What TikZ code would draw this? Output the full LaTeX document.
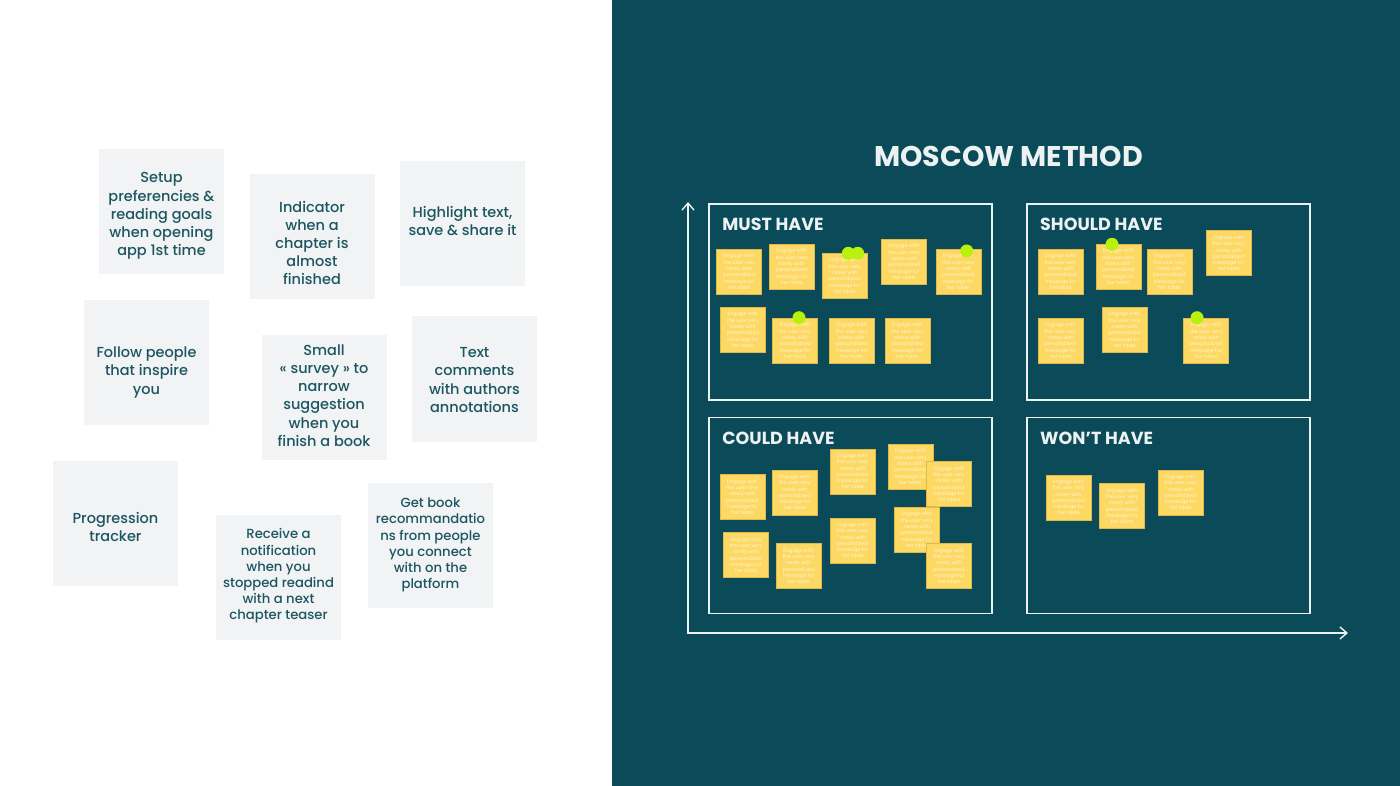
\documentclass[tikz,border=0pt]{standalone}
\usepackage{fontspec}
\setmainfont{Poppins}
\newfontfamily\cardfont{Poppins}[UprightFont=* Medium]
\usetikzlibrary{arrows.meta}

\definecolor{panel}{RGB}{11,74,88}
\definecolor{cardgrey}{RGB}{241,243,244}
\definecolor{cardtext}{RGB}{28,86,97}
\definecolor{stickyyellow}{RGB}{253,216,98}
\definecolor{stickyedge}{RGB}{222,186,78}
\definecolor{stickytext}{RGB}{255,246,214}
\definecolor{pinlime}{RGB}{184,242,12}
\definecolor{chalk}{RGB}{236,241,242}

\newcommand{\engage}{Engage with\\the user very\\rarely with\\personalized\\message for\\her taste}

\tikzset{
  card/.style={fill=cardgrey, minimum width=125, minimum height=125, inner sep=0},
  cardlabel/.style={text=cardtext, inner sep=0, align=center,
    font=\cardfont\fontsize{14.5}{18.2}\selectfont},
  smalllabel/.style={cardlabel, font=\cardfont\fontsize{13.2}{16.2}\selectfont},
  sticky/.style={fill=stickyyellow, draw=stickyedge, line width=0.6, text=stickytext,
    minimum width=45, minimum height=45, inner sep=0, align=center,
    font=\fontsize{5}{6.3}\selectfont},
  greendot/.style={circle, fill=pinlime, minimum size=13, inner sep=0},
  quad/.style={draw=chalk, line width=1.6, minimum width=283, minimum height=196},
  quadtitle/.style={anchor=west, text=chalk, inner sep=0, font=\fontsize{17.5}{20}\bfseries},
  axis/.style={draw=chalk, line width=1.4, {Straight Barb[length=7pt,width=12pt]}-{Straight Barb[length=7pt,width=12pt]}}
}

\begin{document}
\begin{tikzpicture}[x=1pt,y=-1pt]
    \useasboundingbox (0,0) rectangle (1400,786);
    \fill[white] (0,0) rectangle (612,786);
    \fill[panel] (612,0) rectangle (1400,786);

    % feature cards
    \node[card] (setup) at (161.5,212) {};
    \node[card] (indicator) at (312,237) {};
    \node[card] (highlight) at (462.5,224) {};
    \node[card] (follow) at (146.5,362.5) {};
    \node[card] (survey) at (324,397.5) {};
    \node[card] (comments) at (474.5,379) {};
    \node[card] (progress) at (115.5,523) {};
    \node[card] (receive) at (278.5,577) {};
    \node[card] (recommend) at (430.5,545) {};
    \node[cardlabel] (setuptext) at ([yshift=-4pt]setup.center) {Setup\\preferencies \&\\reading goals\\when opening\\app 1st time};
    \node[cardlabel] (indicatortext) at ([yshift=-6pt]indicator.center) {Indicator\\when a\\chapter is\\almost\\finished};
    \node[cardlabel] (highlighttext) at ([yshift=3pt]highlight.center) {Highlight text,\\save \& share it};
    \node[cardlabel] (followtext) at ([yshift=-10pt]follow.center) {Follow people\\that inspire\\you};
    \node[cardlabel] (surveytext) at ([yshift=2pt]survey.center) {Small\\« survey » to\\narrow\\suggestion\\when you\\finish a book};
    \node[cardlabel] (commentstext) at ([yshift=-1pt]comments.center) {Text\\comments\\with authors\\annotations};
    \node[cardlabel] (progresstext) at ([yshift=-4pt]progress.center) {Progression\\tracker};
    \node[smalllabel] (receivetext) at ([yshift=1pt]receive.center) {Receive a\\notification\\when you\\stopped readind\\with a next\\chapter teaser};
    \node[smalllabel] (recommendtext) at (recommend.center) {Get book\\recommandatio\\ns from people\\you connect\\with on the\\platform};

    \node[text=chalk, font=\fontsize{28.5}{32}\bfseries] (title) at (1008.5,156) {MOSCOW METHOD};

    \coordinate (origin) at (688,633);
    \coordinate (ytop) at (688,202);
    \coordinate (xend) at (1348,633);
    \draw[axis] (ytop) -- (origin) -- (xend);

    \node[quad] (must) at (850.5,302) {};
    \node[quad] (should) at (1168.3,302) {};
    \node[quad] (could) at (850.5,515.3) {};
    \node[quad] (wont) at (1168.3,515.3) {};
    \node[quadtitle] (musttitle) at ([xshift=14pt,yshift=-21pt]must.north west) {MUST HAVE};
    \node[quadtitle] (shouldtitle) at ([xshift=14pt,yshift=-21pt]should.north west) {SHOULD HAVE};
    \node[quadtitle] (couldtitle) at ([xshift=14pt,yshift=-22pt]could.north west) {COULD HAVE};
    \node[quadtitle] (wonttitle) at ([xshift=14pt,yshift=-22pt]wont.north west) {WON’T HAVE};

    % must have
    \node[sticky] (m1) at (739.2,271.7) {\engage};
    \node[sticky] (m2) at (791.7,266.8) {\engage};
    \node[sticky] (m3) at (844.7,275.7) {\engage};
    \node[sticky] (m4) at (904,261.8) {\engage};
    \node[sticky] (m5) at (958.3,271.7) {\engage};
    \node[sticky] (m6) at (743,329.7) {\engage};
    \node[sticky] (m7) at (795,340.7) {\engage};
    \node[sticky] (m8) at (851.7,340.7) {\engage};
    \node[sticky] (m9) at (907.3,340.7) {\engage};
    \node[greendot] (md1) at (848.3,253.3) {};
    \node[greendot] (md2) at (857.7,253.3) {};
    \node[greendot] (md3) at (966.7,251) {};
    \node[greendot] (md4) at (799,317.7) {};

    % should have
    \node[sticky] (s1) at (1060.7,271.7) {\engage};
    \node[sticky] (s2) at (1118.3,266.8) {\engage};
    \node[sticky] (s3) at (1169.3,271.7) {\engage};
    \node[sticky] (s4) at (1228.7,253.3) {\engage};
    \node[sticky] (s5) at (1060.7,340.7) {\engage};
    \node[sticky] (s6) at (1124.7,329.7) {\engage};
    \node[sticky] (s7) at (1206,340.7) {\engage};
    \node[greendot] (sd1) at (1112,244.3) {};
    \node[greendot] (sd2) at (1197,317.7) {};

    % could have
    \node[sticky] (c1) at (742.3,497) {\engage};
    \node[sticky] (c2) at (794.7,492.3) {\engage};
    \node[sticky] (c3) at (852.7,471.3) {\engage};
    \node[sticky] (c4) at (910.3,466.7) {\engage};
    \node[sticky] (c5) at (949,484) {\engage};
    \node[sticky] (c6) at (746,555) {\engage};
    \node[sticky] (c7) at (798.7,566) {\engage};
    \node[sticky] (c8) at (852.7,540.3) {\engage};
    \node[sticky] (c9) at (917,529.7) {\engage};
    \node[sticky] (c10) at (949,566) {\engage};

    % won't have
    \node[sticky] (w1) at (1068.7,497.3) {\engage};
    \node[sticky] (w2) at (1122,506) {\engage};
    \node[sticky] (w3) at (1180.7,492.3) {\engage};
\end{tikzpicture}
\end{document}
